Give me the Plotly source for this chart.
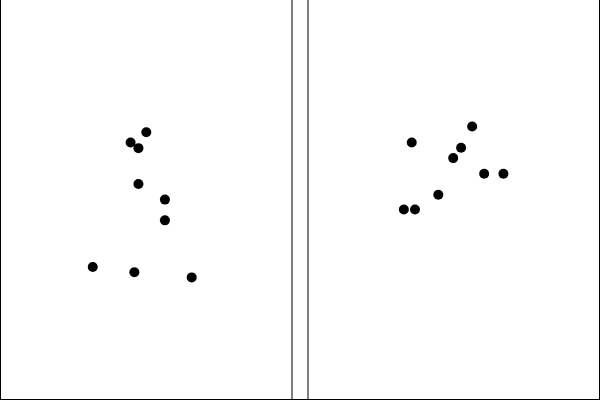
import plotly.graph_objects as go

# Left panel (units: 0-100 across panel)
left_x = [50.1, 44.7, 47.4, 47.4, 56.5, 56.5, 31.7, 46.0, 65.7]
left_y = [67.0, 64.4, 63.0, 54.0, 50.1, 44.9, 33.2, 31.9, 30.6]

# Right panel
right_x = [56.4, 35.7, 52.6, 49.9, 60.5, 67.1, 44.8, 33.0, 36.8]
right_y = [68.4, 64.4, 63.1, 60.5, 56.6, 56.6, 51.3, 47.6, 47.6]

W, H = 600, 400

fig = go.Figure()
fig.add_trace(go.Scatter(x=left_x, y=left_y, mode="markers",
                         marker=dict(color="black", size=10),
                         xaxis="x", yaxis="y", showlegend=False, hoverinfo="skip"))
fig.add_trace(go.Scatter(x=right_x, y=right_y, mode="markers",
                         marker=dict(color="black", size=10),
                         xaxis="x2", yaxis="y2", showlegend=False, hoverinfo="skip"))

ax = dict(range=[0, 100], showgrid=False, zeroline=False, showticklabels=False,
          ticks="", showline=False)
line = dict(color="black", width=1)
shapes = [
    # outer left, right, bottom
    dict(type="line", xref="paper", yref="paper", x0=0.5 / W, x1=0.5 / W, y0=0, y1=1, line=line),
    dict(type="line", xref="paper", yref="paper", x0=599.5 / W, x1=599.5 / W, y0=0, y1=1, line=line),
    dict(type="line", xref="paper", yref="paper", x0=0, x1=1, y0=0.5 / H, y1=0.5 / H, line=line),
    # inner dividers
    dict(type="line", xref="paper", yref="paper", x0=292 / W, x1=292 / W, y0=0, y1=1, line=line),
    dict(type="line", xref="paper", yref="paper", x0=308 / W, x1=308 / W, y0=0, y1=1, line=line),
]
fig.update_layout(
    width=W, height=H,
    margin=dict(l=0, r=0, t=0, b=0, pad=0),
    paper_bgcolor="white", plot_bgcolor="white",
    xaxis=dict(domain=[0.5 / W, 291.5 / W], anchor="y", **ax),
    yaxis=dict(domain=[0.5 / H, 399.5 / H], anchor="x", **ax),
    xaxis2=dict(domain=[307.5 / W, 599.5 / W], anchor="y2", **ax),
    yaxis2=dict(domain=[0.5 / H, 399.5 / H], anchor="x2", **ax),
    shapes=shapes,
)
fig.write_html("out.html", config={"displayModeBar": False},
               post_script="document.body.style.margin='0';document.body.style.padding='0';")
